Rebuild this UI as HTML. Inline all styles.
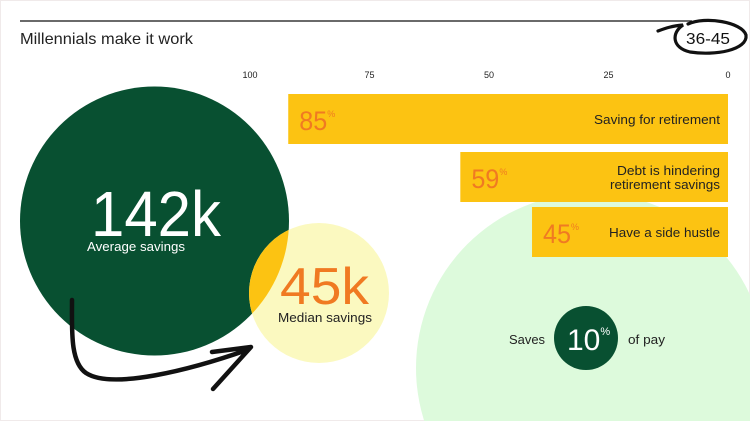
<!DOCTYPE html>
<html><head><meta charset="utf-8"><style>
html,body{margin:0;padding:0;background:#fff;overflow:hidden}
body{width:750px;height:421px;overflow:hidden;font-family:"Liberation Sans",sans-serif}
svg{display:block}
svg text{font-family:"Liberation Sans",sans-serif}
</style></head><body>
<svg id="chart" width="750" height="421" viewBox="0 0 750 421" xmlns="http://www.w3.org/2000/svg">
<rect x="0.5" y="0.5" width="749" height="420" fill="#fff" stroke="#f0eaea"/>
<defs><clipPath id="bigclip"><circle cx="154.5" cy="221" r="134.5"/></clipPath></defs>
<circle cx="591" cy="368" r="175" fill="#ddfadc"/>
<line x1="20" y1="21" x2="692" y2="21" stroke="#111" stroke-width="1.2"/>
<text x="20" y="44" font-size="16" fill="#222" textLength="173" lengthAdjust="spacingAndGlyphs">Millennials make it work</text>
<text x="686" y="44" font-size="16" fill="#111" textLength="44" lengthAdjust="spacingAndGlyphs">36-45</text>
<path d="M688,24 C705,16 742,22 746,35 C748,50 715,56 690,52 C672,48 671,33 683,25 C672,26 666,28 658,31" fill="none" stroke="#111" stroke-width="3.2" stroke-linecap="round"/>
<g id="axis"></g>
<g id="bars"></g>
<circle cx="154.5" cy="221" r="134.5" fill="#085031"/>
<circle cx="319" cy="293" r="70" fill="#fbf9c0"/>
<circle cx="319" cy="293" r="70" fill="#fcc312" clip-path="url(#bigclip)"/>
<text x="91" y="236" font-size="64" fill="#fff" textLength="130" lengthAdjust="spacingAndGlyphs">142k</text>
<text x="87" y="251" font-size="13" fill="#fff" textLength="98" lengthAdjust="spacingAndGlyphs">Average savings</text>
<text x="280" y="304" font-size="52" fill="#f07a22" textLength="89" lengthAdjust="spacingAndGlyphs">45k</text>
<text x="278" y="322" font-size="13" fill="#222" textLength="94" lengthAdjust="spacingAndGlyphs">Median savings</text>
<path d="M72,300 C72,330 70,362 86,373 C112,390 190,370 247,350 M212,352 L251,347 L213,389" fill="none" stroke="#111" stroke-width="4.5" stroke-linecap="round" stroke-linejoin="round"/>
<circle cx="586" cy="338" r="32" fill="#085031"/>
<text x="567" y="350" font-size="30" fill="#fff">10<tspan font-size="11" dy="-15">%</tspan></text>
<text x="509" y="344" font-size="13" fill="#222" textLength="36" lengthAdjust="spacingAndGlyphs">Saves</text>
<text x="628" y="344" font-size="13" fill="#222" textLength="37" lengthAdjust="spacingAndGlyphs">of pay</text>
</svg>
<script>
const ticks = [100, 75, 50, 25, 0];
const barValues = [92, 56, 41];
const barPcts = ["85", "59", "45"];
const barLabels = [["Saving for retirement"], ["Debt is hindering", "retirement savings"], ["Have a side hustle"]];
const labelWidths = [[126], [103, 110], [111]];
const NS = "http://www.w3.org/2000/svg";
const x = v => 728 - v * 4.78;
const rowTop = [94, 152, 207], rowH = [50, 50, 50];
const axis = document.getElementById('axis');
ticks.forEach(t => {
  const el = document.createElementNS(NS, 'text');
  
  
  el.setAttribute('x', x(t)); el.setAttribute('y', 78);
  el.setAttribute('font-size', '9'); el.setAttribute('fill', '#222');
  el.setAttribute('text-anchor', 'middle'); el.textContent = t;
  axis.appendChild(el);
});
const bars = document.getElementById('bars');
barValues.forEach((v, i) => {
  const r = document.createElementNS(NS, 'rect');
  
  
  r.setAttribute('x', x(v)); r.setAttribute('y', rowTop[i]);
  r.setAttribute('width', x(0) - x(v)); r.setAttribute('height', rowH[i]);
  r.setAttribute('fill', '#fcc312');
  bars.appendChild(r);
  const p = document.createElementNS(NS, 'text');
  
  
  p.setAttribute('x', x(v) + 11); p.setAttribute('y', rowTop[i] + 36);
  p.setAttribute('font-size', '27'); p.setAttribute('fill', '#f07a22');
  p.innerHTML = '<tspan textLength="28" lengthAdjust="spacingAndGlyphs">' + barPcts[i] + '</tspan><tspan font-size="9" dy="-13">%</tspan>';
  bars.appendChild(p);
  const lines = barLabels[i];
  lines.forEach((ln, j) => {
    const t = document.createElementNS(NS, 'text');
    
    
    t.setAttribute('x', 720 - labelWidths[i][j]);
    t.setAttribute('y', rowTop[i] + 30 - (lines.length - 1) * 7 + j * 14);
    t.setAttribute('font-size', '13'); t.setAttribute('fill', '#222');
    t.setAttribute('textLength', labelWidths[i][j]);
    t.setAttribute('lengthAdjust', 'spacingAndGlyphs');
    t.textContent = ln;
    bars.appendChild(t);
  });
});
</script>
</body></html>
